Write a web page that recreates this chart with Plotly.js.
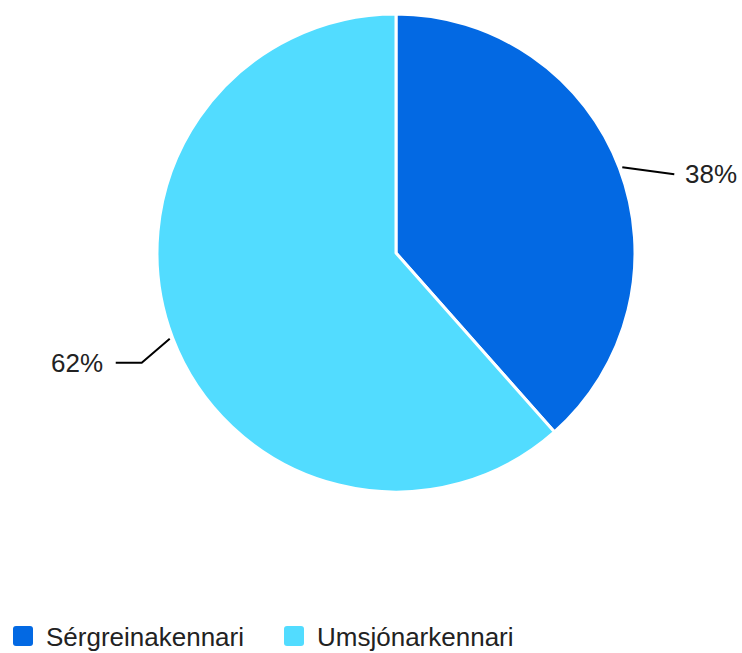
<!DOCTYPE html>
<html>
<head>
<meta charset="utf-8">
<script src="https://cdn.plot.ly/plotly-3.0.1.min.js"></script>
<style>
  html, body { margin: 0; padding: 0; background: #fff; }
  #chart { width: 742px; height: 653px; }
</style>
</head>
<body>
<div id="chart"></div>
<script>
// Chart data (respondent counts; labels show rounded shares)
const categories = ["Sérgreinakennari", "Umsjónarkennari"];
const counts = [5, 8];
const sliceColors = ["#0369e3", "#52dcff"];

// Sizing (pixels)
const W = 742;
const H = 653;
const centerX = 396;
const centerY = 253;
const radius = 239;
const fontFamily = "Liberation Sans, Arial, sans-serif";

// Leader line style per slice: elbow offset from the rim point, then horizontal run
const leaderStyle = [
  { elbowDx: 0, elbowDy: 0, endDx: 52, endDy: 7 },
  { elbowDx: -28, elbowDy: 24, endDx: -54, endDy: 24 },
];

const total = counts.reduce((a, b) => a + b, 0);
const px = (x) => x / W;
const py = (y) => 1 - y / H;
const shapes = [];
const annotations = [];
let cum = 0;
counts.forEach((v, i) => {
  // mid angle of the slice, clockwise from 12 o'clock
  const mid = ((cum + v / 2) / total) * 2 * Math.PI;
  cum += v;
  const sx = centerX + (radius + 3) * Math.sin(mid);
  const sy = centerY - (radius + 3) * Math.cos(mid);
  const st = leaderStyle[i];
  const ex = sx + st.endDx;
  const ey = sy + st.endDy;
  shapes.push({
    type: "path",
    xref: "paper",
    yref: "paper",
    path: `M${px(sx)},${py(sy)} L${px(sx + st.elbowDx)},${py(sy + st.elbowDy)} L${px(ex)},${py(ey)}`,
    line: { color: "#000", width: 2 },
  });
  const right = Math.sin(mid) > 0;
  annotations.push({
    xref: "paper",
    yref: "paper",
    x: px(ex + (right ? 9 : -11)),
    y: py(ey),
    xanchor: right ? "left" : "right",
    yanchor: "middle",
    text: Math.round((v / total) * 100) + "%",
    showarrow: false,
    font: { family: fontFamily, size: 26, color: "#222" },
  });
});

const pieTrace = {
  type: "pie",
  labels: categories,
  values: counts,
  sort: false,
  direction: "clockwise",
  rotation: 0,
  textinfo: "none",
  hoverinfo: "label+percent",
  marker: { colors: sliceColors, line: { color: "#fff", width: 3 } },
  domain: {
    x: [px(centerX - radius), px(centerX + radius)],
    y: [py(centerY + radius), py(centerY - radius)],
  },
};

const layout = {
  width: W,
  height: H,
  margin: { l: 0, r: 0, t: 0, b: 0, autoexpand: false },
  paper_bgcolor: "#fff",
  showlegend: true,
  legend: {
    orientation: "h",
    x: 0,
    xanchor: "left",
    y: -0.01,
    yanchor: "bottom",
    font: { family: fontFamily, size: 26, color: "#222" },
    itemwidth: 36,
    entrywidth: 220,
  },
  shapes: shapes,
  annotations: annotations,
};

Plotly.newPlot("chart", [pieTrace], layout, { displayModeBar: false, staticPlot: true }).then((gd) => {
  // larger rounded legend swatches
  gd.querySelectorAll(".legendpoints path.legendpie").forEach((p) => {
    p.setAttribute("d", "M-7,-10H7A3,3 0 0 1 10,-7V7A3,3 0 0 1 7,10H-7A3,3 0 0 1 -10,7V-7A3,3 0 0 1 -7,-10Z");
    p.style.strokeWidth = "0px";
  });
});
</script>
</body>
</html>
